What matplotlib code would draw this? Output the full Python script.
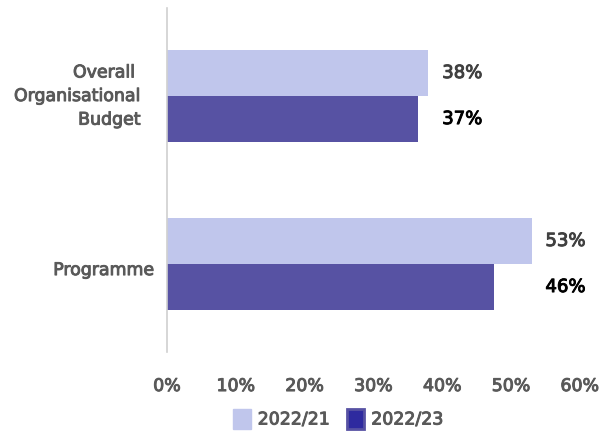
import matplotlib.pyplot as plt
import matplotlib.patheffects as pe
from matplotlib.patches import Patch
from matplotlib.transforms import blended_transform_factory

plt.rcParams["font.family"] = ["DejaVu Sans"]

categories = ["Programme", "Overall \nOrganisational\nBudget"]
series_names = ["2022/21", "2022/23"]
values_2122 = [53, 38]
values_2223 = [47.5, 36.5]
labels_2122 = ["53%", "38%"]
labels_2223 = ["46%", "37%"]
ticks = [0, 10, 20, 30, 40, 50, 60]
tick_labels = ["0%", "10%", "20%", "30%", "40%", "50%", "60%"]

light = "#c0c6ec"
dark = "#5752a3"
grey = "#595959"
fs = 12.5


def heavy(color):
    # thicken the regular face a little, ref font is a medium weight
    return [pe.withStroke(linewidth=0.7, foreground=color)]


fig = plt.figure(figsize=(6.04, 4.33), dpi=100)
ax = fig.add_axes([0.2765, 0.187, 0.6835, 0.7945])

h = 0.274
ypos = list(range(len(categories)))
ax.barh([y + h / 2 for y in ypos], values_2122, height=h, color=light)
ax.barh([y - h / 2 for y in ypos], values_2223, height=h, color=dark)

# labels sit at the same x inside a group
for i, y in enumerate(ypos):
    lx = max(values_2122[i], values_2223[i]) + 2
    ax.text(lx, y + h / 2, labels_2122[i], va="center", ha="left",
            fontsize=13, color="#404040", path_effects=heavy("#404040"))
    ax.text(lx, y - h / 2, labels_2223[i], va="center", ha="left",
            fontsize=13, color="black", path_effects=heavy("black"))

ax.set_xlim(0, 60)
ax.set_ylim(-0.524, 1.524)
ax.set_xticks(ticks)
ax.set_xticklabels(tick_labels, fontsize=fs, color=grey)
for t in ax.get_xticklabels():
    t.set_path_effects(heavy(grey))
ax.set_yticks([])
ax.tick_params(axis="x", length=0, pad=18)

# category names, placed by hand left of the axis
tr = blended_transform_factory(fig.transFigure, ax.transData)
ax.text(155 / 604, -0.036, categories[0], transform=tr, ha="right", va="center",
        fontsize=fs, color=grey, path_effects=heavy(grey))
ax.text(141 / 604, 1.0, categories[1], transform=tr, ha="right", va="center",
        fontsize=fs, color=grey, linespacing=1.4, path_effects=heavy(grey))

for s in ["top", "right", "bottom"]:
    ax.spines[s].set_visible(False)
ax.spines["left"].set_color("#d0d0d0")
ax.spines["left"].set_linewidth(1.2)

handles = [Patch(facecolor=light, edgecolor=light),
           Patch(facecolor="#2e2a9f", edgecolor=dark, linewidth=2)]
leg = fig.legend(handles, series_names, loc="center", bbox_to_anchor=(0.56, 0.033),
                 ncol=2, frameon=False, handlelength=1.0, handleheight=1.4,
                 handletextpad=0.4, columnspacing=1.0,
                 prop={"size": fs})
for t in leg.get_texts():
    t.set_color(grey)
    t.set_path_effects(heavy(grey))

fig.savefig("out.png", dpi=100)
